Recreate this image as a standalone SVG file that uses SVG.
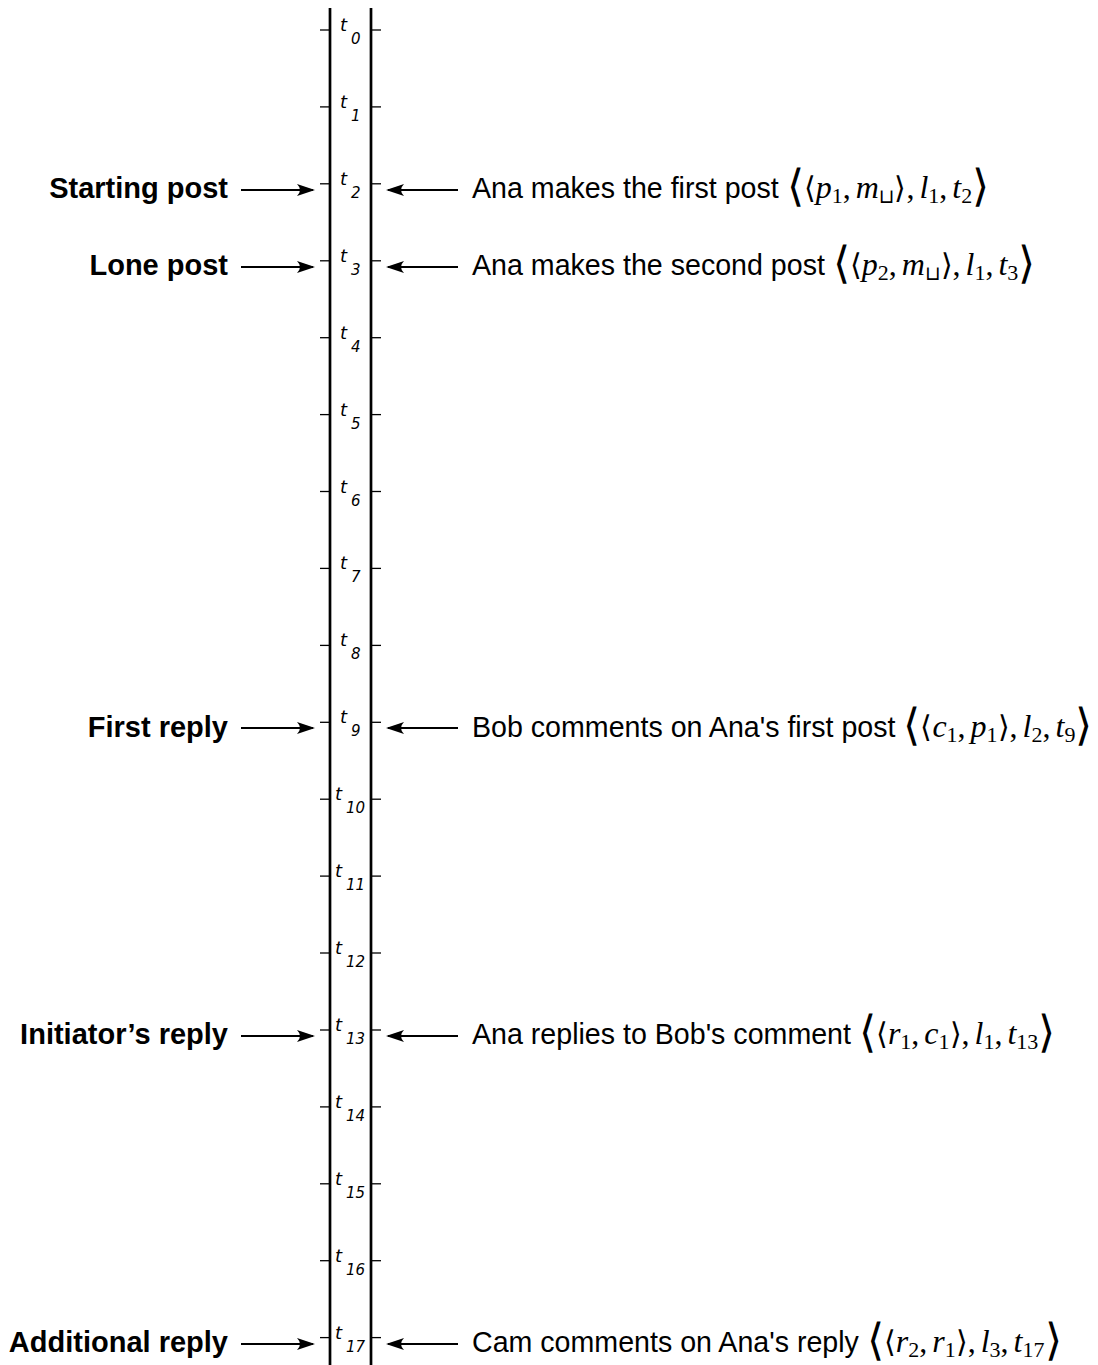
<svg xmlns="http://www.w3.org/2000/svg" width="1098" height="1365" viewBox="0 0 1098 1365">
<style>
.ax{stroke:#000;stroke-width:2.7;fill:none}
.tk{stroke:#000;stroke-width:1.3}
.tl{font-family:"DejaVu Sans",sans-serif;font-style:oblique;font-size:18px;fill:#000}
.ts{font-size:15px}
.lb{font-family:"Liberation Sans",Arial,sans-serif;font-weight:bold;font-size:29px;fill:#000;text-anchor:end}
.rt{font-family:"Liberation Sans",Arial,sans-serif;font-size:28.6px;fill:#000}
.mi{font-family:"Liberation Serif","Times New Roman",serif;font-style:italic;font-size:32px}
.mr{font-family:"Liberation Serif","Times New Roman",serif;font-size:32px}
.sb{font-family:"Liberation Serif","Times New Roman",serif;font-size:22px}
.ss{font-family:"DejaVu Sans",sans-serif;font-size:20px}
.ag{font-family:"DejaVu Sans",sans-serif;font-weight:200;font-size:30px}
.bg{font-family:"DejaVu Sans",sans-serif;font-weight:200;font-size:44px}
.ar{stroke:#000;stroke-width:2;fill:none;marker-end:url(#ah)}
</style>
<defs>
<marker id="ah" viewBox="0 0 18 12" refX="16" refY="6" markerWidth="18" markerHeight="12" markerUnits="userSpaceOnUse" orient="auto">
<path d="M0,0 L18,6 L0,12 Q6,6 0,0 Z" fill="#000"/>
</marker>
</defs>
<g id="timeline">
<line class="ax" x1="330" y1="8" x2="330" y2="1365"/>
<line class="ax" x1="371" y1="8" x2="371" y2="1365"/>
<g id="ticks">
<line class="tk" x1="320" y1="30" x2="330" y2="30"/><line class="tk" x1="371" y1="30" x2="381" y2="30"/>
<line class="tk" x1="320" y1="106.9" x2="330" y2="106.9"/><line class="tk" x1="371" y1="106.9" x2="381" y2="106.9"/>
<line class="tk" x1="320" y1="183.8" x2="330" y2="183.8"/><line class="tk" x1="371" y1="183.8" x2="381" y2="183.8"/>
<line class="tk" x1="320" y1="260.8" x2="330" y2="260.8"/><line class="tk" x1="371" y1="260.8" x2="381" y2="260.8"/>
<line class="tk" x1="320" y1="337.7" x2="330" y2="337.7"/><line class="tk" x1="371" y1="337.7" x2="381" y2="337.7"/>
<line class="tk" x1="320" y1="414.6" x2="330" y2="414.6"/><line class="tk" x1="371" y1="414.6" x2="381" y2="414.6"/>
<line class="tk" x1="320" y1="491.5" x2="330" y2="491.5"/><line class="tk" x1="371" y1="491.5" x2="381" y2="491.5"/>
<line class="tk" x1="320" y1="568.4" x2="330" y2="568.4"/><line class="tk" x1="371" y1="568.4" x2="381" y2="568.4"/>
<line class="tk" x1="320" y1="645.4" x2="330" y2="645.4"/><line class="tk" x1="371" y1="645.4" x2="381" y2="645.4"/>
<line class="tk" x1="320" y1="722.3" x2="330" y2="722.3"/><line class="tk" x1="371" y1="722.3" x2="381" y2="722.3"/>
<line class="tk" x1="320" y1="799.2" x2="330" y2="799.2"/><line class="tk" x1="371" y1="799.2" x2="381" y2="799.2"/>
<line class="tk" x1="320" y1="876.1" x2="330" y2="876.1"/><line class="tk" x1="371" y1="876.1" x2="381" y2="876.1"/>
<line class="tk" x1="320" y1="953" x2="330" y2="953"/><line class="tk" x1="371" y1="953" x2="381" y2="953"/>
<line class="tk" x1="320" y1="1030" x2="330" y2="1030"/><line class="tk" x1="371" y1="1030" x2="381" y2="1030"/>
<line class="tk" x1="320" y1="1106.9" x2="330" y2="1106.9"/><line class="tk" x1="371" y1="1106.9" x2="381" y2="1106.9"/>
<line class="tk" x1="320" y1="1183.8" x2="330" y2="1183.8"/><line class="tk" x1="371" y1="1183.8" x2="381" y2="1183.8"/>
<line class="tk" x1="320" y1="1260.7" x2="330" y2="1260.7"/><line class="tk" x1="371" y1="1260.7" x2="381" y2="1260.7"/>
<line class="tk" x1="320" y1="1337.6" x2="330" y2="1337.6"/><line class="tk" x1="371" y1="1337.6" x2="381" y2="1337.6"/>
</g>
<g id="tick-labels">
<text class="tl" x="340" y="31">t<tspan class="ts" x="351" y="44">0</tspan></text>
<text class="tl" x="340" y="107.9">t<tspan class="ts" x="351" y="120.9">1</tspan></text>
<text class="tl" x="340" y="184.8">t<tspan class="ts" x="351" y="197.8">2</tspan></text>
<text class="tl" x="340" y="261.8">t<tspan class="ts" x="351" y="274.8">3</tspan></text>
<text class="tl" x="340" y="338.7">t<tspan class="ts" x="351" y="351.7">4</tspan></text>
<text class="tl" x="340" y="415.6">t<tspan class="ts" x="351" y="428.6">5</tspan></text>
<text class="tl" x="340" y="492.5">t<tspan class="ts" x="351" y="505.5">6</tspan></text>
<text class="tl" x="340" y="569.4">t<tspan class="ts" x="351" y="582.4">7</tspan></text>
<text class="tl" x="340" y="646.4">t<tspan class="ts" x="351" y="659.4">8</tspan></text>
<text class="tl" x="340" y="723.3">t<tspan class="ts" x="351" y="736.3">9</tspan></text>
<text class="tl" x="335" y="800.2">t<tspan class="ts" x="346" y="813.2">10</tspan></text>
<text class="tl" x="335" y="877.1">t<tspan class="ts" x="346" y="890.1">11</tspan></text>
<text class="tl" x="335" y="954">t<tspan class="ts" x="346" y="967">12</tspan></text>
<text class="tl" x="335" y="1031">t<tspan class="ts" x="346" y="1044">13</tspan></text>
<text class="tl" x="335" y="1107.9">t<tspan class="ts" x="346" y="1120.9">14</tspan></text>
<text class="tl" x="335" y="1184.8">t<tspan class="ts" x="346" y="1197.8">15</tspan></text>
<text class="tl" x="335" y="1261.7">t<tspan class="ts" x="346" y="1274.7">16</tspan></text>
<text class="tl" x="335" y="1338.6">t<tspan class="ts" x="346" y="1351.6">17</tspan></text>
</g>
</g>
<g id="connectors">
<line class="ar" x1="241" y1="190" x2="313" y2="190"/>
<line class="ar" x1="458" y1="190" x2="388" y2="190"/>
<line class="ar" x1="241" y1="267" x2="313" y2="267"/>
<line class="ar" x1="458" y1="267" x2="388" y2="267"/>
<line class="ar" x1="241" y1="728" x2="313" y2="728"/>
<line class="ar" x1="458" y1="728" x2="388" y2="728"/>
<line class="ar" x1="241" y1="1036" x2="313" y2="1036"/>
<line class="ar" x1="458" y1="1036" x2="388" y2="1036"/>
<line class="ar" x1="241" y1="1344" x2="313" y2="1344"/>
<line class="ar" x1="458" y1="1344" x2="388" y2="1344"/>
</g>
<g id="event-t2">
<text class="lb" x="228" y="198">Starting post</text>
<text class="rt" x="472" y="198">Ana makes the first post <tspan class="bg" dy="3">⟨</tspan><tspan class="ag" dy="-3">⟨</tspan><tspan class="mi">p</tspan><tspan class="sb" dy="5">1</tspan><tspan class="mr" dy="-5">,</tspan><tspan class="mi" dx="5">m</tspan><tspan class="ss" dy="5">⊔</tspan><tspan class="ag" dy="-5">⟩</tspan><tspan class="mr">,</tspan><tspan class="mi" dx="5">l</tspan><tspan class="sb" dy="5">1</tspan><tspan class="mr" dy="-5">,</tspan><tspan class="mi" dx="5">t</tspan><tspan class="sb" dy="5">2</tspan><tspan class="bg" dy="-2">⟩</tspan></text>
</g>
<g id="event-t3">
<text class="lb" x="228" y="275">Lone post</text>
<text class="rt" x="472" y="275">Ana makes the second post <tspan class="bg" dy="3">⟨</tspan><tspan class="ag" dy="-3">⟨</tspan><tspan class="mi">p</tspan><tspan class="sb" dy="5">2</tspan><tspan class="mr" dy="-5">,</tspan><tspan class="mi" dx="5">m</tspan><tspan class="ss" dy="5">⊔</tspan><tspan class="ag" dy="-5">⟩</tspan><tspan class="mr">,</tspan><tspan class="mi" dx="5">l</tspan><tspan class="sb" dy="5">1</tspan><tspan class="mr" dy="-5">,</tspan><tspan class="mi" dx="5">t</tspan><tspan class="sb" dy="5">3</tspan><tspan class="bg" dy="-2">⟩</tspan></text>
</g>
<g id="event-t9">
<text class="lb" x="228" y="737">First reply</text>
<text class="rt" x="472" y="737">Bob comments on Ana's first post <tspan class="bg" dy="3">⟨</tspan><tspan class="ag" dy="-3">⟨</tspan><tspan class="mi">c</tspan><tspan class="sb" dy="5">1</tspan><tspan class="mr" dy="-5">,</tspan><tspan class="mi" dx="5">p</tspan><tspan class="sb" dy="5">1</tspan><tspan class="ag" dy="-5">⟩</tspan><tspan class="mr">,</tspan><tspan class="mi" dx="5">l</tspan><tspan class="sb" dy="5">2</tspan><tspan class="mr" dy="-5">,</tspan><tspan class="mi" dx="5">t</tspan><tspan class="sb" dy="5">9</tspan><tspan class="bg" dy="-2">⟩</tspan></text>
</g>
<g id="event-t13">
<text class="lb" x="228" y="1044">Initiator’s reply</text>
<text class="rt" x="472" y="1044">Ana replies to Bob's comment <tspan class="bg" dy="3">⟨</tspan><tspan class="ag" dy="-3">⟨</tspan><tspan class="mi">r</tspan><tspan class="sb" dy="5">1</tspan><tspan class="mr" dy="-5">,</tspan><tspan class="mi" dx="5">c</tspan><tspan class="sb" dy="5">1</tspan><tspan class="ag" dy="-5">⟩</tspan><tspan class="mr">,</tspan><tspan class="mi" dx="5">l</tspan><tspan class="sb" dy="5">1</tspan><tspan class="mr" dy="-5">,</tspan><tspan class="mi" dx="5">t</tspan><tspan class="sb" dy="5">13</tspan><tspan class="bg" dy="-2">⟩</tspan></text>
</g>
<g id="event-t17">
<text class="lb" x="228" y="1352">Additional reply</text>
<text class="rt" x="472" y="1352">Cam comments on Ana's reply <tspan class="bg" dy="3">⟨</tspan><tspan class="ag" dy="-3">⟨</tspan><tspan class="mi">r</tspan><tspan class="sb" dy="5">2</tspan><tspan class="mr" dy="-5">,</tspan><tspan class="mi" dx="5">r</tspan><tspan class="sb" dy="5">1</tspan><tspan class="ag" dy="-5">⟩</tspan><tspan class="mr">,</tspan><tspan class="mi" dx="5">l</tspan><tspan class="sb" dy="5">3</tspan><tspan class="mr" dy="-5">,</tspan><tspan class="mi" dx="5">t</tspan><tspan class="sb" dy="5">17</tspan><tspan class="bg" dy="-2">⟩</tspan></text>
</g>
</svg>
